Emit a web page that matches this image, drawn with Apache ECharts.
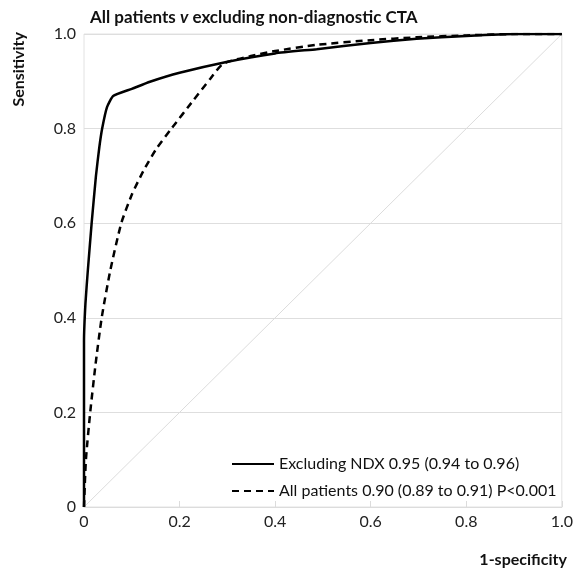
<!DOCTYPE html>
<html><head><meta charset="utf-8">
<script src="https://cdn.jsdelivr.net/npm/echarts@6/dist/echarts.min.js"></script>
<style>html,body{margin:0;padding:0;background:#fff}#c{width:576px;height:571px}</style>
</head><body><div id="c"></div>
<script>
const titleText = 'All patients {i|v} excluding non-diagnostic CTA';
const xTicks = [0, 0.2, 0.4, 0.6, 0.8, 1.0];
const yTicks = [0, 0.2, 0.4, 0.6, 0.8, 1.0];
const seriesNames = ['Excluding NDX 0.95 (0.94 to 0.96)', 'All patients 0.90 (0.89 to 0.91) P<0.001'];
// Excluding NDX (solid)
const exclFpr  = [0, 0, 0.003, 0.008, 0.016, 0.025, 0.032, 0.038, 0.048, 0.061, 0.1, 0.138, 0.2, 0.298, 0.4, 0.487, 0.6, 0.696, 0.8, 0.905, 1.0];
const exclSens = [0, 0.35, 0.43, 0.5, 0.6, 0.7, 0.76, 0.8, 0.845, 0.869, 0.884, 0.899, 0.918, 0.941, 0.959, 0.968, 0.981, 0.99, 0.996, 1.0, 1.0];
// All patients (dashed)
const allFpr  = [0, 0.004, 0.013, 0.024, 0.037, 0.055, 0.078, 0.1, 0.124, 0.15, 0.183, 0.229, 0.264, 0.291, 0.347, 0.4, 0.487, 0.6, 0.696, 0.8, 0.905, 1.0];
const allSens = [0, 0.1, 0.2, 0.3, 0.4, 0.5, 0.6, 0.66, 0.71, 0.755, 0.8, 0.86, 0.905, 0.937, 0.953, 0.964, 0.977, 0.987, 0.993, 0.997, 1.0, 1.0];
const diagX = [0, 1];
const diagY = [0, 1];

const zip = (a, b) => a.map((v, i) => [v, b[i]]);
const font = 'Lato, "Open Sans", sans-serif';
const fmt = v => (v === 0 ? '0' : v.toFixed(1));

const chart = echarts.init(document.getElementById('c'), null, {renderer: 'canvas'});
chart.setOption({
  animation: false,
  textStyle: {fontFamily: font},
  title: {
    text: titleText, left: 85, top: 4,
    textStyle: {fontFamily: font, fontSize: 17, fontWeight: 'bold', color: '#111',
      rich: {i: {fontFamily: font, fontSize: 17, fontWeight: 'bold', fontStyle: 'italic', color: '#111'}}}
  },
  grid: {left: 84, right: 14, top: 34, bottom: 64, show: true, borderColor: '#e2e2e2', borderWidth: 1},
  legend: {
    orient: 'vertical', left: 226, top: 451, itemWidth: 42, itemHeight: 14, itemGap: 11,
    data: seriesNames,
    itemStyle: {opacity: 0, borderWidth: 0},
    textStyle: {fontFamily: font, fontSize: 16, color: '#111'}
  },
  xAxis: {
    type: 'value', min: 0, max: 1, interval: 0.2,
    name: '1-specificity', nameLocation: 'end', nameGap: 5,
    nameTextStyle: {fontFamily: font, fontSize: 16, fontWeight: 'bold', color: '#111', align: 'right', verticalAlign: 'top', padding: [45, 0, 0, 0]},
    axisLine: {show: true, lineStyle: {color: '#dcdcdc'}},
    axisTick: {show: true, inside: true, length: 6, lineStyle: {color: '#dcdcdc'}},
    axisLabel: {fontFamily: font, fontSize: 16, color: '#222', margin: 7, formatter: fmt},
    splitLine: {show: false}
  },
  yAxis: {
    type: 'value', min: 0, max: 1, interval: 0.2,
    name: 'Sensitivity', nameLocation: 'end', nameRotate: 90, nameGap: 2,
    nameTextStyle: {fontFamily: font, fontSize: 16, fontWeight: 'bold', color: '#111', align: 'right', verticalAlign: 'bottom', padding: [0, 0, 57, 0]},
    axisLine: {show: false},
    axisTick: {show: false},
    axisLabel: {fontFamily: font, fontSize: 16, color: '#222', margin: 8, formatter: fmt},
    splitLine: {show: true, lineStyle: {color: '#dedede', width: 1}}
  },
  series: [
    {type: 'line', name: 'diag', data: zip(diagX, diagY), symbol: 'none', silent: true,
      lineStyle: {color: '#dcdcdc', width: 1}, z: 1},
    {type: 'line', name: seriesNames[0], data: zip(exclFpr, exclSens), symbol: 'none', smooth: 0.15,
      lineStyle: {color: '#000', width: 2.5, type: 'solid'}, itemStyle: {color: '#000'}, z: 3},
    {type: 'line', name: seriesNames[1], data: zip(allFpr, allSens), symbol: 'none', smooth: 0.2,
      lineStyle: {color: '#000', width: 2.5, type: [7, 5]}, itemStyle: {color: '#000'}, z: 2}
  ]
});
</script></body></html>
